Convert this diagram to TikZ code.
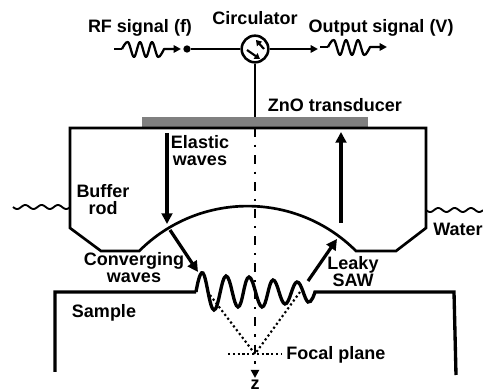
\documentclass[tikz,border=0pt]{standalone}
\usepackage{fontspec}
\setmainfont{Liberation Sans}
\usetikzlibrary{arrows.meta}
\tikzset{
	lbl/.style={font=\fontsize{13.5}{12.75}\selectfont\bfseries, align=center, inner sep=0pt},
	outline/.style={line width=2pt, line join=miter},
	flow/.style={line width=2.4pt, -{Triangle[length=8pt,width=8pt]}},
	wire/.style={line width=1.7pt},
	wiretip/.style={-{Triangle[length=5.5pt,width=5.5pt]}},
	focus/.style={line width=1.6pt, dotted}
}
\newcommand{\rfwave}[2] % {x}{y} du signal
{
	\draw [wire, wiretip, line join=round] plot [smooth, tension=0.6] coordinates {(#1+8,#2) (#1+14,#2-7) (#1+20,#2+8) (#1+26,#2-7) (#1+32,#2+8) (#1+38,#2-7) (#1+44,#2+8) (#1+50,#2)} -- (#1+67,#2);
	\draw [wire] (#1,#2) -- (#1+8,#2);
}
\newcommand{\waterwave}[2] % {x}{y} de la surface
{
	\draw [line width=1.4pt] plot [domain=0:57, samples=60, smooth] (#1+\x,{#2+2*sin(\x*22)});
}
\begin{document}
\begin{tikzpicture}[x=0.75pt,y=-0.75pt]
	\useasboundingbox (0,0) rectangle (483,392);

	%transducer and circuit
	\node (zno) [fill=black!50, minimum width=169.5pt, minimum height=7pt, inner sep=0pt] at (255,122) {};
	\node (circ) [circle, draw, line width=1.9pt, fill=white, minimum size=20pt, inner sep=0pt] at (255,49) {};
	\node (rfdot) [circle, fill=black, minimum size=5.5pt, inner sep=0pt] at (187,49) {};
	\coordinate (outend) at (318,49);
	\draw [wire] (rfdot) -- (circ);
	\draw [wire, wiretip] (circ) -- (outend);
	\draw [wire] (circ) -- (zno.north -| circ);
	\draw [line width=1.6pt, -{Triangle[length=4pt,width=5pt]}] (264,49) -- (256,40);
	\draw [line width=1.6pt, -{Triangle[length=4pt,width=5pt]}] (247,50) -- (260,59);
	\rfwave{114}{49}
	\rfwave{320}{47}

	%buffer rod
	\draw [outline] (70,128) -- (426,128) -- (426,228) -- (396,251) -- (356,251) arc [start angle=315, end angle=225, radius=153.3] -- (101,251) -- (70,228) -- cycle;
	\waterwave{13}{207}
	\waterwave{426}{210}

	%sample
	\draw [line width=2.5pt] (55,372) -- (55,292) -- (196,292) plot [smooth, tension=0.7] coordinates {(196,292) (203,273) (214,310) (226,276) (238,307) (249,277) (262,307) (273,280) (285,304) (297,282) (308,302) (315,292)} -- (454,292) -- (456,375);

	%axis and focus
	\coordinate (axtop) at (255,128);
	\coordinate (axend) at (255,378);
	\coordinate (focal) at (255,354);
	\coordinate (focl) at (228,354);
	\coordinate (focr) at (282,354);
	\coordinate (rayl) at (210,295);
	\coordinate (rayr) at (300,292);
	\draw [line width=2.2pt, dash pattern=on 6.5pt off 6pt on 1.8pt off 6pt, -{Triangle[length=6pt,width=6pt]}] (axtop) -- (axend);
	\draw [focus] (rayl) -- (focal) -- (rayr);
	\draw [focus] (focl) -- (focr);

	%waves
	\coordinate (ela1) at (167,133);
	\coordinate (ela2) at (167,224);
	\coordinate (ela3) at (341,223);
	\coordinate (ela4) at (341,132);
	\coordinate (con1) at (170,230);
	\coordinate (con2) at (198,272);
	\coordinate (lea1) at (308,281);
	\coordinate (lea2) at (337,239);
	\draw [flow] (ela1) -- (ela2);
	\draw [flow] (ela3) -- (ela4);
	\draw [flow] (con1) -- (con2);
	\draw [flow] (lea1) -- (lea2);

	\node (rftxt) [lbl] at (140,28) {RF signal (f)};
	\node (circtxt) [lbl] at (255,18) {Circulator};
	\node (outtxt) [lbl] at (381,28) {Output signal (V)};
	\node (znotxt) [lbl] at (335,105) {ZnO transducer};
	\node (elatxt) [lbl] at (200,151) {Elastic\\waves};
	\node (buftxt) [lbl] at (103,200) {Buffer\\rod};
	\node (contxt) [lbl] at (134,268) {Converging\\waves};
	\node (leatxt) [lbl] at (353,272) {Leaky\\SAW};
	\node (samtxt) [lbl] at (104,313) {Sample};
	\node (foctxt) [lbl, anchor=west] at (286,355) {Focal plane};
	\node (wattxt) [lbl, anchor=west] at (433,229) {Water};
	\node (ztxt) [lbl] at (255,384.5) {z};
\end{tikzpicture}
\end{document}
